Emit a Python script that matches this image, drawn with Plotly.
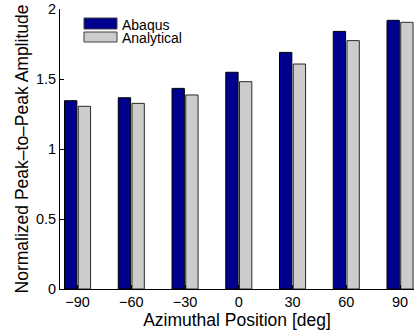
import plotly.graph_objects as go

# Azimuthal positions (deg) and normalized peak-to-peak amplitudes
positions = [-90, -60, -30, 0, 30, 60, 90]
abaqus = [1.345, 1.366, 1.433, 1.548, 1.690, 1.840, 1.919]
analytical = [1.305, 1.326, 1.386, 1.481, 1.607, 1.774, 1.905]

x_tick_vals = [-90, -60, -30, 0, 30, 60, 90]
x_tick_text = ["\u221290", "\u221260", "\u221230", "0", "30", "60", "90"]
y_tick_vals = [0, 0.5, 1, 1.5, 2]
y_tick_text = ["0", "0.5", "1", "1.5", "2"]

series_names = ["Abaqus", "Analytical"]
fill_colors = ["rgb(0,0,143)", "rgb(204,204,204)"]
edge_colors = ["rgb(0,0,0)", "rgb(40,40,40)"]

FONT = "Liberation Sans, Arial, Helvetica, sans-serif"

fig = go.Figure()
for name, vals, fc, ec in zip(series_names, [abaqus, analytical], fill_colors, edge_colors):
    fig.add_trace(go.Bar(
        x=positions, y=vals, name=name,
        marker=dict(color=fc, line=dict(color=ec, width=1)),
        showlegend=False,
    ))

# Hand-drawn legend: wide swatches with labels beside them
W, H = 414, 335
L, R, T, B = 60, 0, 9, 46
pw, ph = W - L - R, H - T - B


def px_x(p):
    return (p - L) / pw


def px_y(p):
    return (H - B - p) / ph


legend_rows = [(18, 29, 25), (32, 42, 38.5)]
shapes = []
annotations = []
for (y0, y1, yc), name, fc, ec in zip(legend_rows, series_names, fill_colors, edge_colors):
    shapes.append(dict(type="rect", xref="paper", yref="paper",
                       x0=px_x(84), x1=px_x(117), y0=px_y(y1), y1=px_y(y0),
                       fillcolor=fc, line=dict(color="rgb(60,60,60)", width=1)))
    annotations.append(dict(xref="paper", yref="paper", x=px_x(120), y=px_y(yc),
                            text=name, showarrow=False, xanchor="left", yanchor="middle",
                            font=dict(family=FONT, size=14, color="black")))

fig.update_layout(
    width=W, height=H,
    margin=dict(l=L, r=R, t=T, b=B, pad=0),
    paper_bgcolor="white", plot_bgcolor="white",
    barmode="group", bargap=0.49, bargroupgap=0.1,
    font=dict(family=FONT, size=14, color="black"),
    shapes=shapes, annotations=annotations,
    xaxis=dict(
        range=[-99.8, 97.8], tickmode="array", tickvals=x_tick_vals, ticktext=x_tick_text,
        showline=True, linecolor="black", linewidth=1, mirror=False,
        ticks="inside", ticklen=4, tickcolor="black", showgrid=False, zeroline=False,
        tickfont=dict(size=14.5),
        title=dict(text="Azimuthal Position [deg]", font=dict(size=17.5), standoff=2),
    ),
    yaxis=dict(
        range=[0, 2], tickmode="array", tickvals=y_tick_vals, ticktext=y_tick_text,
        showline=True, linecolor="black", linewidth=1, mirror=False,
        ticks="inside", ticklen=4, tickcolor="black", showgrid=False, zeroline=False,
        tickfont=dict(size=14.5),
        title=dict(text="Normalized Peak\u2013to\u2013Peak Amplitude", font=dict(size=17.5), standoff=2),
    ),
)

fig.write_html("out.html")
